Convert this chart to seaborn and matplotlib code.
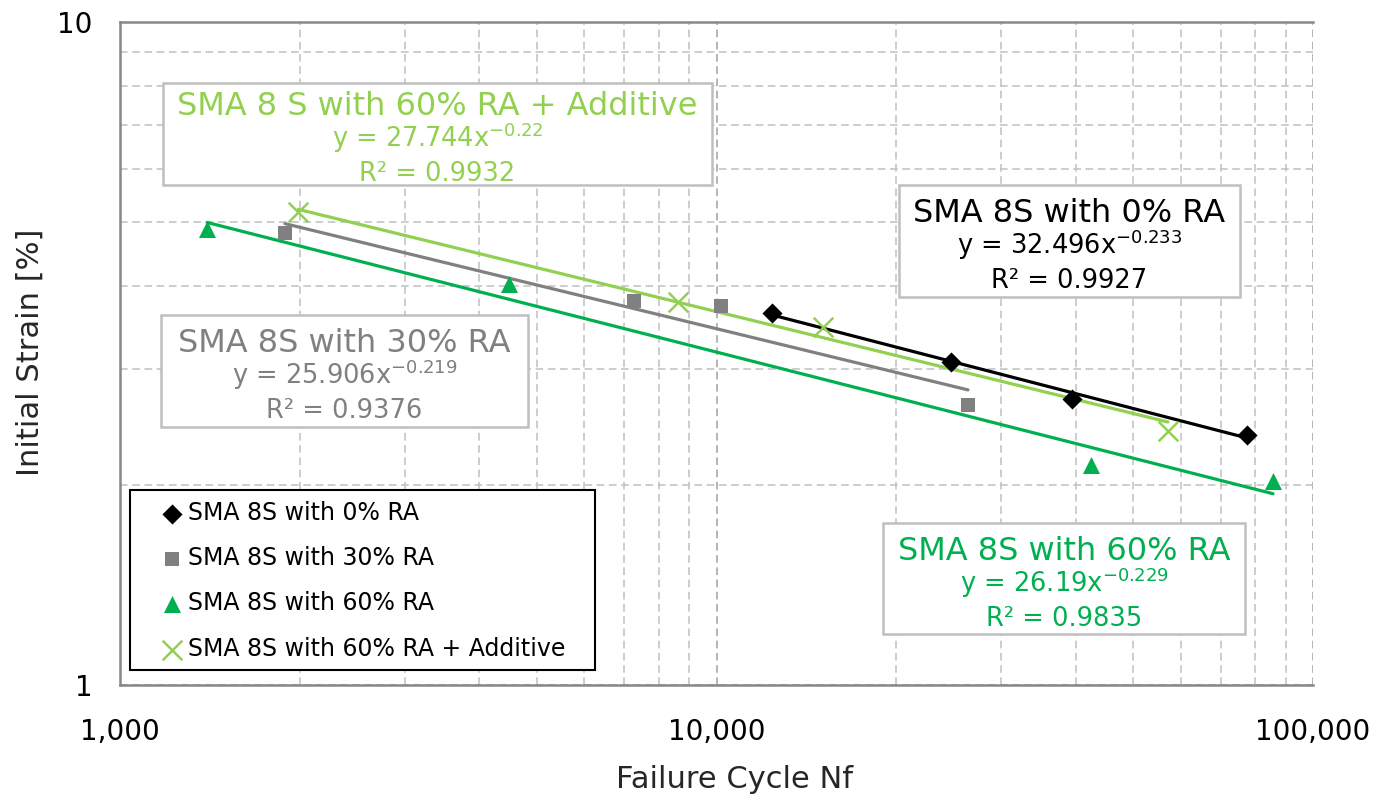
import numpy as np
import pandas as pd
import matplotlib
matplotlib.use("Agg")
import matplotlib.pyplot as plt
import seaborn as sns
from matplotlib.patches import Rectangle
from matplotlib.ticker import FixedLocator, FuncFormatter, NullFormatter, LogLocator

sns.set_theme(style="white")
plt.rcParams['font.family'] = ['DejaVu Sans']
plt.rcParams['mathtext.fontset'] = 'dejavusans'

# ---- data ----
series_names = ["SMA 8S with 0% RA", "SMA 8S with 30% RA",
                "SMA 8S with 60% RA", "SMA 8S with 60% RA + Additive"]
nf_0 = [12400, 24700, 39500, 77500]
eps_0 = [3.64, 3.07, 2.70, 2.38]
nf_30 = [1890, 7280, 10180, 26400]
eps_30 = [4.81, 3.80, 3.73, 2.64]
nf_60 = [1400, 4490, 42500, 85700]
eps_60 = [4.87, 4.02, 2.15, 2.03]
nf_60a = [1990, 8620, 15100, 57100]
eps_60a = [5.17, 3.78, 3.47, 2.42]

fit_a = [32.496, 25.906, 26.19, 27.744]
fit_b = [-0.233, -0.219, -0.229, -0.22]
fit_r2 = ["0.9927", "0.9376", "0.9835", "0.9932"]
box_titles = ["SMA 8S with 0% RA", "SMA 8S with 30% RA",
              "SMA 8S with 60% RA", "SMA 8 S with 60% RA + Additive"]
eq_texts = ["y = 32.496x$^{-0.233}$", "y = 25.906x$^{-0.219}$",
            "y = 26.19x$^{-0.229}$", "y = 27.744x$^{-0.22}$"]

colors = ["#000000", "#808080", "#00B050", "#92D050"]
markers = ["D", "s", "^", "x"]
msizes = [105, 95, 150, 200]

xs_all = [nf_0, nf_30, nf_60, nf_60a]
ys_all = [eps_0, eps_30, eps_60, eps_60a]

W, H = 1375, 799
L, R, T, B = 120, 1313, 22, 685
fig = plt.figure(figsize=(W/100, H/100), dpi=100)
ax = fig.add_axes([L/W, 1-B/H, (R-L)/W, (B-T)/H])
ax.set_xscale("log")
ax.set_yscale("log")
ax.set_xlim(1000, 100000)
ax.set_ylim(1, 10)

def px2ax(x, y):
    return (x - L) / (R - L), (B - y) / (B - T)

# gridlines
ax.xaxis.set_major_locator(FixedLocator([1000, 10000, 100000]))
ax.yaxis.set_major_locator(FixedLocator([1, 10]))
ax.xaxis.set_minor_locator(LogLocator(base=10, subs=np.arange(2, 10)))
ax.yaxis.set_minor_locator(LogLocator(base=10, subs=np.arange(2, 10)))
ax.xaxis.set_minor_formatter(NullFormatter())
ax.yaxis.set_minor_formatter(NullFormatter())
ax.xaxis.set_major_formatter(FuncFormatter(lambda v, p: f"{int(round(v)):,}"))
ax.yaxis.set_major_formatter(FuncFormatter(lambda v, p: f"{int(round(v))}"))
ax.grid(which="major", color="#A0A0A0", linestyle=(0, (5, 3)), linewidth=1.1)
ax.grid(which="minor", color="#C0C0C0", linestyle=(0, (5, 3)), linewidth=1.1)
ax.set_axisbelow(True)

# trendlines
for i in range(4):
    xx = np.logspace(np.log10(min(xs_all[i])), np.log10(max(xs_all[i])), 50)
    yy = fit_a[i] * xx ** fit_b[i]
    sns.lineplot(x=xx, y=yy, ax=ax, color=colors[i], linewidth=2.3,
                 legend=False, estimator=None, sort=False, zorder=2)

# points
for i in range(4):
    df = pd.DataFrame({"Nf": xs_all[i], "strain": ys_all[i]})
    if markers[i] == "x":
        sns.scatterplot(data=df, x="Nf", y="strain", ax=ax, color=colors[i],
                        marker="x", s=msizes[i], linewidth=1.8,
                        label=series_names[i], zorder=3)
    else:
        sns.scatterplot(data=df, x="Nf", y="strain", ax=ax, color=colors[i],
                        marker=markers[i], s=msizes[i], linewidth=0,
                        label=series_names[i], zorder=3)

for s in ["left", "bottom", "top"]:
    ax.spines[s].set_color("#888888")
    ax.spines[s].set_linewidth(1.8)
ax.spines["right"].set_visible(False)
ax.tick_params(which="major", direction="out", length=8, width=1.5,
               color="#888888", labelsize=20, labelcolor="#000000", pad=12)
ax.tick_params(axis="x", which="major", pad=16)
ax.tick_params(which="minor", length=0)

ax.set_xlabel("Failure Cycle Nf", fontsize=22, color="#262626")
ax.set_ylabel("Initial Strain [%]", fontsize=22, color="#262626")
ax.xaxis.set_label_coords(*px2ax(735, 780))
ax.yaxis.set_label_coords(*px2ax(30, 352))
ax.xaxis.label.set_va("center")
ax.yaxis.label.set_va("center")

# legend frame + legend
lx0, ly0 = px2ax(130, 670)
lx1, ly1 = px2ax(595, 490)
ax.add_patch(Rectangle((lx0, ly0), lx1 - lx0, ly1 - ly0, transform=ax.transAxes,
                       fc="white", ec="#000000", lw=1.5, zorder=4))
leg = ax.legend(loc="upper left", bbox_to_anchor=px2ax(160, 501),
                frameon=False, fontsize=17, handletextpad=0.2,
                labelspacing=0.9, borderpad=0, handlelength=1.0,
                borderaxespad=0)
leg.set_zorder(4.5)
for t in leg.get_texts():
    t.set_color("#000000")

# trendline label boxes: (left, top, right, bottom) in pixels
boxes = [(899, 185, 1240, 297), (161, 315, 528, 427),
         (883, 523, 1245, 634), (163, 83, 712, 185)]
for i in range(4):
    l, t, r, b = boxes[i]
    ax0, ay0 = px2ax(l, b)
    ax1, ay1 = px2ax(r, t)
    ax.add_patch(Rectangle((ax0, ay0), ax1 - ax0, ay1 - ay0, transform=ax.transAxes,
                           fc="white", ec="#BFBFBF", lw=1.8, zorder=5))
    cx = (ax0 + ax1) / 2
    cy = (t + b) / 2
    ax.text(cx, px2ax(0, cy - 19)[1], box_titles[i], transform=ax.transAxes,
            ha="center", va="baseline", fontsize=23, color=colors[i], zorder=6)
    ax.text(cx, px2ax(0, cy + 13)[1], eq_texts[i], transform=ax.transAxes,
            ha="center", va="baseline", fontsize=18.5, color=colors[i], zorder=6)
    ax.text(cx, px2ax(0, cy + 47)[1], "R² = " + fit_r2[i], transform=ax.transAxes,
            ha="center", va="baseline", fontsize=18.5, color=colors[i], zorder=6)

fig.savefig("out.png", dpi=100)
